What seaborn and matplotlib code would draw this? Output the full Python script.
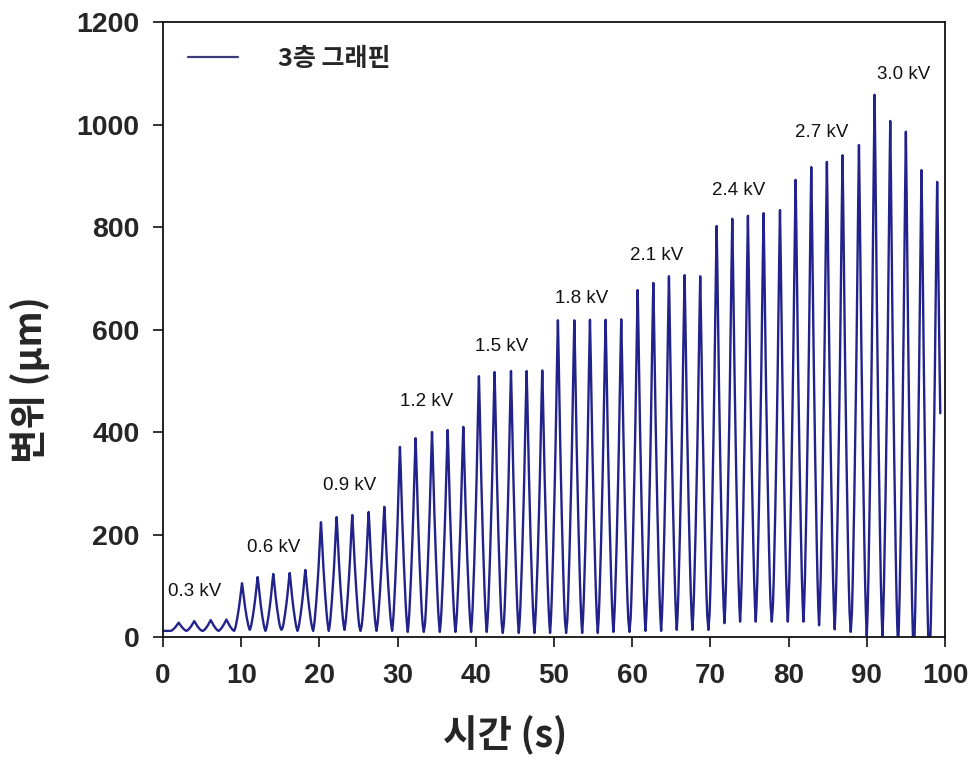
import numpy as np
import pandas as pd
import matplotlib
matplotlib.use("Agg")
import matplotlib.pyplot as plt
import seaborn as sns

# Applied voltage steps (five actuation cycles per step, four for the first)
voltage_labels = ["0.3 kV", "0.6 kV", "0.9 kV", "1.2 kV", "1.5 kV",
                  "1.8 kV", "2.1 kV", "2.4 kV", "2.7 kV", "3.0 kV"]

# Time of each displacement peak (s)
peak_times = [2.0, 4.0, 6.1, 8.1,
              10.1, 12.1, 14.1, 16.2, 18.2,
              20.2, 22.2, 24.2, 26.3, 28.3,
              30.3, 32.3, 34.4, 36.4, 38.4,
              40.4, 42.4, 44.5, 46.5, 48.5,
              50.5, 52.6, 54.6, 56.6, 58.6,
              60.7, 62.7, 64.7, 66.7, 68.7,
              70.8, 72.8, 74.8, 76.8, 78.9,
              80.9, 82.9, 84.9, 86.9, 89.0,
              91.0, 93.0, 95.0, 97.0, 99.0]

# Peak displacement of each cycle (um)
peak_values = [28, 31, 33, 34,
               105, 117, 123, 125, 131,
               224, 234, 238, 244, 254,
               371, 388, 400, 404, 410,
               509, 517, 519, 519, 520,
               618, 618, 619, 619, 620,
               677, 691, 704, 706, 704,
               802, 816, 822, 827, 833,
               892, 917, 927, 940, 960,
               1058, 1007, 986, 911, 888]

# Trough before each cycle (um), plus the level the last cycle falls towards
valley_values = [12, 12, 12, 12,
                 12, 14, 12, 14, 12,
                 12, 12, 14, 12, 12,
                 12, 10, 10, 10, 10,
                 10, 10, 8, 8, 8,
                 8, 8, 8, 8, 10,
                 10, 12, 12, 14, 14,
                 14, 27, 30, 30, 30,
                 30, 30, 23, 15, 10,
                 2, 2, -20, -40, -60]
last_trough = 20

start_value = 12
end_time = 99.45

# Normalised cycle shape: fraction of the peak height vs. time from the peak (s)
pulse_offsets = [0.1, 0.2, 0.3, 0.4, 0.5, 0.6, 0.7, 0.8, 0.9]
pulse_profile = [0.88, 0.74, 0.60, 0.48, 0.37, 0.27, 0.18, 0.10, 0.04]

# Assemble the displacement trace
t_pts, y_pts = [0.0], [start_value]
n = len(peak_times)
for i in range(n):
    tp, pk = peak_times[i], peak_values[i]
    v_prev = valley_values[i]
    t_valley = (tp + peak_times[i - 1]) / 2 if i > 0 else tp - 1.0
    t_pts.append(t_valley)
    y_pts.append(v_prev)
    for d, f in zip(pulse_offsets[::-1], pulse_profile[::-1]):
        t_pts.append(tp - d)
        y_pts.append(v_prev + (pk - v_prev) * f)
    t_pts.append(tp)
    y_pts.append(pk)
    v_next = valley_values[i + 1] if i + 1 < n else last_trough
    for d, f in zip(pulse_offsets, pulse_profile):
        if tp + d > end_time:
            break
        t_pts.append(tp + d)
        y_pts.append(v_next + (pk - v_next) * f)

df = pd.DataFrame({"time": t_pts, "disp": y_pts})

sns.set_style("white")
plt.rcParams["font.family"] = ["Liberation Sans", "Noto Sans CJK KR", "DejaVu Sans"]

fig = plt.figure(figsize=(9.75, 7.78), dpi=100)
ax = fig.add_axes([0.1672, 0.1812, 0.8020, 0.7905])

line_color = "#22228c"
sns.lineplot(data=df, x="time", y="disp", ax=ax, color=line_color,
             linewidth=1.7, sort=False, estimator=None, label="3층 그래핀")

# Voltage annotations
label_pos_t = [0.6, 10.8, 20.5, 30.3, 39.9, 50.1, 59.7, 70.2, 80.8, 91.3]
label_pos_y = [88, 174, 295, 459, 566, 661, 745, 872, 985, 1097]
for txt, tx, ty in zip(voltage_labels, label_pos_t, label_pos_y):
    ax.text(tx, ty, txt, ha="left", va="center", fontsize=13.5,
            family=["Liberation Sans", "DejaVu Sans"], color="#111111")

ax.set_xlim(0, 100)
ax.set_ylim(0, 1200)
ax.set_xticks(np.arange(0, 101, 10))
ax.set_yticks(np.arange(0, 1201, 200))

for sp in ax.spines.values():
    sp.set_visible(True)
    sp.set_color("#111111")
    sp.set_linewidth(1.3)

ax.tick_params(axis="both", which="major", direction="out", length=7,
               width=1.2, color="#111111", bottom=True, left=True,
               top=False, right=False)
ax.tick_params(axis="x", pad=12)
ax.tick_params(axis="y", pad=10)
for lab in ax.get_xticklabels():
    lab.set_fontsize(20)
    lab.set_fontweight("bold")
    lab.set_family(["Liberation Sans", "DejaVu Sans"])
for lab in ax.get_yticklabels():
    lab.set_fontsize(20.5)
    lab.set_fontweight("bold")
    lab.set_family(["Liberation Sans", "DejaVu Sans"])

cjk = ["Noto Sans CJK KR", "DejaVu Sans"]
ax.set_xlabel("시간 (s)", fontsize=27, fontweight="bold", family=cjk)
ax.set_ylabel("변위 (μm)", fontsize=27, fontweight="bold", family=cjk)
ax.xaxis.set_label_coords(0.437, -0.128)
ax.yaxis.set_label_coords(-0.145, 0.418)

leg = ax.legend(loc="upper left", frameon=False, handlelength=2.0,
                handletextpad=1.6, borderaxespad=0.6,
                prop={"family": cjk, "weight": "bold", "size": 18})
for h in leg.get_lines():
    h.set_color("#3c3c7c")
    h.set_linewidth(1.6)

fig.savefig("out.png", dpi=100)
